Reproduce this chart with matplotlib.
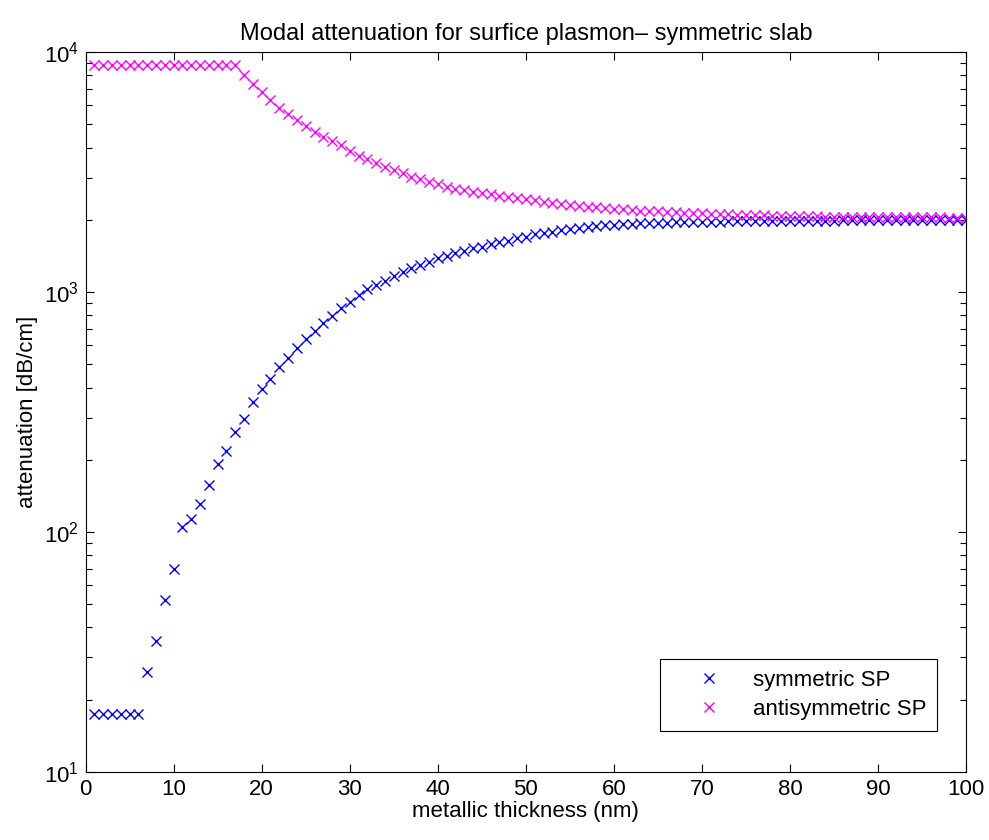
import numpy as np
import matplotlib
matplotlib.use('Agg')
import matplotlib.pyplot as plt

plt.rcParams['font.family'] = ['Liberation Sans', 'DejaVu Sans']
plt.rcParams['mathtext.fontset'] = 'custom'
plt.rcParams['mathtext.rm'] = 'Liberation Sans'

# metallic thickness (nm)
thickness = list(range(1, 101))

# symmetric SP attenuation (dB/cm)
symmetric = [17.4, 17.4, 17.4, 17.4, 17.4, 17.4, 26, 35, 52, 70,
             105, 113, 131, 157, 192, 218, 261, 297, 349, 393,
             436, 489, 533, 587, 637, 690, 745, 794, 856, 912,
             972, 1026, 1070, 1114, 1166, 1216, 1256, 1296, 1337, 1381,
             1416, 1449, 1482, 1521, 1546, 1582, 1612, 1637, 1675, 1698,
             1738, 1766, 1783, 1813, 1836, 1853, 1870, 1883, 1900, 1910,
             1918, 1925, 1932, 1938, 1943, 1948, 1952, 1956, 1959, 1962,
             1965, 1967, 1969, 1971, 1973, 1975, 1977, 1978, 1980, 1981,
             1982, 1983, 1984, 1985, 1986, 1987, 1988, 1988, 1989, 1990,
             1990, 1991, 1991, 1992, 1992, 1993, 1993, 1994, 1994, 1995]

# antisymmetric SP attenuation (dB/cm)
antisymmetric = [8800, 8800, 8800, 8800, 8800, 8800, 8800, 8800, 8800, 8800,
                 8800, 8800, 8800, 8800, 8800, 8800, 8800, 8020, 7360, 6790,
                 6310, 5860, 5520, 5210, 4920, 4660, 4440, 4250, 4100, 3880,
                 3700, 3570, 3440, 3330, 3220, 3120, 3020, 2950, 2880, 2820,
                 2750, 2700, 2660, 2620, 2580, 2550, 2520, 2490, 2460, 2440,
                 2415, 2380, 2355, 2330, 2305, 2290, 2270, 2255, 2235, 2220,
                 2210, 2197, 2185, 2178, 2168, 2158, 2148, 2140, 2132, 2125,
                 2118, 2112, 2106, 2100, 2095, 2090, 2086, 2082, 2078, 2075,
                 2072, 2069, 2066, 2064, 2062, 2060, 2058, 2056, 2054, 2052,
                 2051, 2050, 2049, 2048, 2047, 2046, 2045, 2044, 2043, 2042]

xticks = list(range(0, 101, 10))

fig = plt.figure(figsize=(9.89, 8.4), dpi=100)
ax = fig.add_axes([0.0865, 0.081, 0.8905, 0.857])

ax.semilogy(thickness, symmetric, 'x', color=(0, 0, 1), markersize=7,
            markeredgewidth=1.0, label='symmetric SP')
ax.semilogy(thickness, antisymmetric, 'x', color=(1, 0, 1), markersize=7,
            markeredgewidth=1.0, label='antisymmetric SP')

ax.set_xlim(0, 100)
ax.set_ylim(10, 1e4)
ax.set_xticks(xticks)

# matlab-ish ticks: inside, on every side
ax.tick_params(which='both', direction='in', top=True, right=True, labelsize=16)
ax.tick_params(which='major', length=6, width=0.8)
ax.tick_params(which='minor', length=4, width=0.8)
ax.tick_params(axis='x', pad=5)
ax.tick_params(axis='y', pad=5)
for s in ax.spines.values():
    s.set_linewidth(0.8)

ax.set_xlabel('metallic thickness (nm)', fontsize=16, labelpad=1)
ax.set_ylabel('attenuation [dB/cm]', fontsize=16, labelpad=4)
ax.set_title('Modal attenuation for surfice plasmon\u2013 symmetric slab', fontsize=17, pad=9)

leg = ax.legend(loc='lower right', bbox_to_anchor=(0.967, 0.057), borderaxespad=0,
                fancybox=False, edgecolor='black', framealpha=1, fontsize=16,
                handlelength=3.4, handletextpad=0.25, borderpad=0.5, labelspacing=0.35)
leg.get_frame().set_linewidth(0.8)

fig.savefig('out.png', dpi=100)
